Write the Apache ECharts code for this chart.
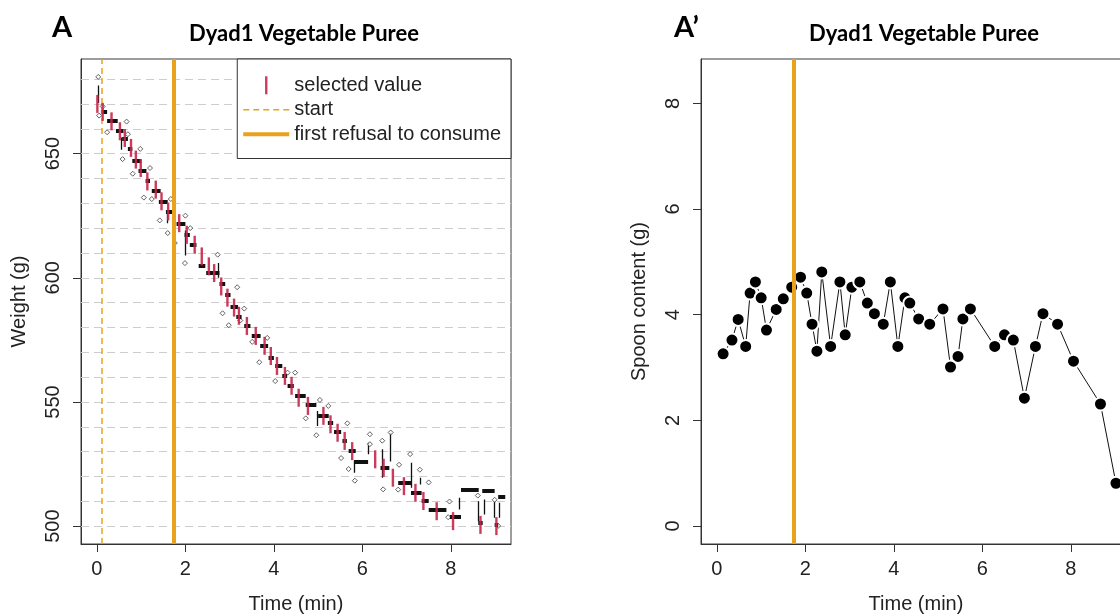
<!DOCTYPE html>
<html>
<head>
<meta charset="utf-8">
<script src="https://cdn.jsdelivr.net/npm/echarts@6/dist/echarts.min.js"></script>
<style>
  html, body { margin: 0; padding: 0; background: #fff; }
  #chart { width: 1120px; height: 616px; }
</style>
</head>
<body>
<div id="chart"></div>
<script>
// ---- Panel A: scale weight over time ----
// raw scale readings (min, g)
const rawTime   = [0.03,0.05,0.13,0.23,0.67,0.70,0.98,0.58,0.81,1.20,1.06,1.24,1.42,1.67,1.60,1.76,2.00,2.11,1.99,2.73,3.17,2.84,2.98,3.33,3.24,3.51,3.67,3.85,4.03,4.31,4.48,4.72,4.96,5.04,5.23,5.52,5.66,5.69,5.83,6.17,6.17,6.45,6.64,6.47,6.81,6.83,7.08,7.30,7.50,7.97,7.94,8.61,8.99,9.07];
const rawWeight = [680.9,665.3,669.0,658.6,662.9,657.8,651.9,647.8,641.9,644.2,632.3,631.7,623.1,631.7,618.0,614.0,625.0,620.0,605.9,609.3,596.2,585.7,580.9,587.6,582.8,574.2,566.0,575.8,558.4,561.8,561.8,543.4,536.6,550.8,548.4,527.4,541.4,523.0,518.3,537.0,533.0,534.4,537.7,514.8,514.7,524.7,529.0,522.7,517.6,509.9,503.6,512.3,510.6,500.1];

// stable plateaus: start time, end time, weight
const plateauStart  = [0.09,0.23,0.43,0.57,0.70,0.80,0.94,1.10,1.24,1.40,1.56,1.80,1.98,2.10,2.30,2.47,2.77,2.90,3.02,3.15,3.33,3.50,3.69,3.88,4.03,4.19,4.31,4.48,4.72,5.00,5.22,5.36,5.55,5.69,5.81,6.41,6.81,7.10,7.34,7.50,7.98,8.23,8.62,8.71,8.99,9.07];
const plateauEnd    = [0.23,0.47,0.60,0.70,0.80,1.00,1.12,1.20,1.44,1.60,1.70,2.00,2.10,2.25,2.45,2.77,2.90,3.02,3.19,3.27,3.47,3.70,3.87,4.00,4.19,4.30,4.45,4.72,4.96,5.24,5.34,5.52,5.65,5.85,6.13,6.61,7.10,7.34,7.50,7.90,8.23,8.63,8.72,8.99,9.07,9.23];
const plateauWeight = [667.0,663.4,659.4,656.0,652.0,647.2,642.9,639.0,635.2,630.8,626.5,621.8,617.5,613.5,605.0,601.9,597.5,593.0,588.5,584.5,580.5,576.5,572.5,568.0,564.4,560.4,556.4,552.4,548.7,544.4,541.7,538.1,534.4,530.3,525.9,523.7,517.6,513.6,510.3,506.6,503.6,514.7,501.2,514.3,500.5,511.9];

// short transitions between readings: time, low weight, high weight
const jumpTime = [0.03,0.56,1.60,1.99,2.75,4.98,5.81,6.13,6.45,6.64,7.10,7.30,8.18,8.63,8.75,8.99,9.09];
const jumpLow  = [670.4,651.6,622.0,609.0,600.0,540.3,521.5,528.9,519.5,526.0,515.5,516.8,506.7,502.0,504.7,503.4,503.4];
const jumpHigh = [677.4,656.5,626.7,619.0,606.0,546.4,526.2,533.6,531.0,537.6,525.5,519.5,511.4,510.0,510.7,510.0,509.4];

// selected bite weights
const selTime   = [0.01,0.13,0.33,0.52,0.63,0.77,0.88,0.99,1.14,1.33,1.46,1.61,1.86,2.03,2.21,2.37,2.53,2.65,2.81,2.95,3.10,3.21,3.39,3.59,3.79,3.93,4.07,4.25,4.40,4.56,4.77,5.12,5.28,5.44,5.60,5.77,6.29,6.48,6.69,6.94,7.20,7.38,7.68,8.05,8.67,9.03];
const selWeight = [670.0,666.8,663.0,659.0,656.3,652.3,647.6,644.2,638.8,635.5,630.8,626.7,622.0,617.3,613.3,608.6,604.6,601.9,596.5,592.0,588.0,584.7,580.6,576.6,572.6,568.5,564.5,560.5,556.5,551.7,548.4,544.4,541.0,537.6,534.3,530.2,526.9,523.5,519.5,516.1,513.4,510.1,506.0,502.0,500.5,500.0];

const weightGrid  = [500,510,520,530,540,550,560,570,580,590,600,610,620,630,640,650,660,670,680];
const weightTicks = [500,550,600,650];

// ---- Panel A': spoon content per bite ----
const spoonTime    = [0.14,0.34,0.48,0.65,0.75,0.87,1.00,1.12,1.34,1.50,1.69,1.89,2.03,2.15,2.26,2.37,2.57,2.78,2.90,3.05,3.23,3.40,3.56,3.76,3.92,4.09,4.25,4.36,4.56,4.81,5.11,5.28,5.45,5.56,5.73,6.28,6.50,6.70,6.95,7.20,7.37,7.70,8.06,8.67,9.02];
const spoonContent = [3.26,3.52,3.91,3.40,4.41,4.62,4.32,3.71,4.10,4.30,4.52,4.71,4.41,3.82,3.31,4.81,3.40,4.62,3.62,4.52,4.62,4.22,4.02,3.82,4.62,3.40,4.32,4.22,3.92,3.82,4.11,3.01,3.21,3.92,4.11,3.40,3.62,3.52,2.42,3.40,4.02,3.82,3.12,2.31,0.81];
const spoonTicks   = [0,2,4,6,8];

const timeTicks   = [0,2,4,6,8];
const startTime   = 0.10;
const refusalTime = 1.74;

const ORANGE = '#e9a21c';
const RED = '#c8264a';
const AXIS_FONT = 'Liberation Sans, Arial, sans-serif';
const TITLE_FONT = 'Lato, Open Sans, sans-serif';

// legend glyphs: short red tick, dashed line, thick line
const ICON_TICK = 'path://M0,0H2.4V18H0Z';
const ICON_DASH = 'path://M0,0H6V1.5H0Z M10,0H16V1.5H10Z M20,0H26V1.5H20Z M30,0H36V1.5H30Z M40,0H46V1.5H40Z';
const ICON_BAR  = 'path://M0,0H46V4H0Z';

const zip = (a, b) => a.map((v, i) => [v, b[i]]);

function timeAxis(gridIndex) {
  return {
    type: 'value', gridIndex, min: -0.36, max: 9.36,
    name: 'Time (min)', nameLocation: 'middle', nameGap: 50,
    nameTextStyle: { fontFamily: AXIS_FONT, fontSize: 20, color: '#222' },
    axisLine: { show: true, onZero: false, lineStyle: { color: '#333', width: 1 } },
    axisTick: { show: true, length: 8, customValues: timeTicks, lineStyle: { color: '#333' } },
    axisLabel: { customValues: timeTicks, margin: 15, fontFamily: AXIS_FONT, fontSize: 20, color: '#222' },
    splitLine: { show: false }
  };
}
function valueAxis(gridIndex, min, max, ticks, name) {
  return {
    type: 'value', gridIndex, min, max,
    name, nameLocation: 'middle', nameGap: 52,
    nameTextStyle: { fontFamily: AXIS_FONT, fontSize: 20, color: '#222' },
    axisLine: { show: true, onZero: false, lineStyle: { color: '#333', width: 1 } },
    axisTick: { show: true, length: 8, customValues: ticks, lineStyle: { color: '#333' } },
    axisLabel: { customValues: ticks, rotate: 90, margin: 18, fontFamily: AXIS_FONT, fontSize: 20, color: '#222' },
    splitLine: { show: false }
  };
}

const chart = echarts.init(document.getElementById('chart'), null, { renderer: 'canvas' });

chart.setOption({
  animation: false,
  backgroundColor: '#fff',
  grid: [
    { left: 81, right: 609, top: 59, bottom: 72, show: true, borderColor: '#3a3a3a', borderWidth: 1, containLabel: false, outerBoundsMode: 'none' },
    { left: 701, right: -11, top: 59, bottom: 72, show: true, borderColor: '#3a3a3a', borderWidth: 1, containLabel: false, outerBoundsMode: 'none' }
  ],
  xAxis: [timeAxis(0), timeAxis(1)],
  yAxis: [
    valueAxis(0, 492.8, 688.1, weightTicks, 'Weight (g)'),
    valueAxis(1, -0.34, 8.84, spoonTicks, 'Spoon content (g)')
  ],
  legend: {
    orient: 'vertical', right: 609, top: 59,
    backgroundColor: '#fff', borderColor: '#333', borderWidth: 1,
    padding: [14, 10, 12, 6],
    itemWidth: 46, itemHeight: 18, itemGap: 0,
    textStyle: { fontFamily: AXIS_FONT, fontSize: 20, lineHeight: 24.5, color: '#222' },
    selectedMode: false,
    data: [
      { name: 'selected value', icon: ICON_TICK },
      { name: 'start', icon: ICON_DASH },
      { name: 'first refusal to consume', icon: ICON_BAR }
    ]
  },
  graphic: [
    { type: 'text', x: 52, y: 28, style: { text: 'A', font: 'bold 29px ' + TITLE_FONT, fill: '#000', verticalAlign: 'middle' } },
    { type: 'text', x: 304, y: 34, style: { text: 'Dyad1 Vegetable Puree', font: 'bold 22px ' + TITLE_FONT, fill: '#000', align: 'center', verticalAlign: 'middle' } },
    { type: 'text', x: 674, y: 28, style: { text: 'A\u2019', font: 'bold 29px ' + TITLE_FONT, fill: '#000', verticalAlign: 'middle' } },
    { type: 'text', x: 924, y: 34, style: { text: 'Dyad1 Vegetable Puree', font: 'bold 22px ' + TITLE_FONT, fill: '#000', align: 'center', verticalAlign: 'middle' } }
  ],
  series: [
    {
      // dashed reference grid for weight
      name: 'weight grid', type: 'lines', coordinateSystem: 'cartesian2d', xAxisIndex: 0, yAxisIndex: 0,
      silent: true, z: 1,
      data: weightGrid.map(w => ({ coords: [[-0.36, w], [9.36, w]] })),
      lineStyle: { color: '#cdcdcd', width: 1, type: [8, 5], opacity: 1 }
    },
    {
      name: 'raw', type: 'scatter', xAxisIndex: 0, yAxisIndex: 0, z: 3,
      symbol: 'diamond', symbolSize: 5,
      itemStyle: { color: '#fff', borderColor: '#3c3c3c', borderWidth: 1 },
      data: zip(rawTime, rawWeight)
    },
    {
      name: 'jumps', type: 'lines', coordinateSystem: 'cartesian2d', xAxisIndex: 0, yAxisIndex: 0, z: 3,
      lineStyle: { color: '#111', width: 1.3, opacity: 1 },
      data: jumpTime.map((t, i) => ({ coords: [[t, jumpLow[i]], [t, jumpHigh[i]]] }))
    },
    {
      name: 'plateaus', type: 'lines', coordinateSystem: 'cartesian2d', xAxisIndex: 0, yAxisIndex: 0, z: 4,
      lineStyle: { color: '#111', width: 4, opacity: 1, cap: 'butt' },
      data: plateauStart.map((t, i) => ({ coords: [[t, plateauWeight[i]], [plateauEnd[i], plateauWeight[i]]] }))
    },
    {
      name: 'selected value', type: 'scatter', xAxisIndex: 0, yAxisIndex: 0, z: 5,
      symbol: 'rect', symbolSize: [2.4, 18],
      itemStyle: { color: RED, opacity: 0.9 },
      data: zip(selTime, selWeight)
    },
    {
      name: 'start', type: 'line', xAxisIndex: 0, yAxisIndex: 0, z: 2,
      data: [], symbol: 'none', color: ORANGE,
      lineStyle: { color: ORANGE, width: 1.5, type: [6, 4] },
      markLine: {
        silent: true, symbol: ['none', 'none'], label: { show: false },
        lineStyle: { color: ORANGE, width: 1.5, type: [6, 4], opacity: 1 },
        data: [{ xAxis: startTime }]
      }
    },
    {
      name: 'first refusal to consume', type: 'line', xAxisIndex: 0, yAxisIndex: 0, z: 2,
      data: [], symbol: 'none', color: ORANGE,
      lineStyle: { color: ORANGE, width: 4 },
      markLine: {
        silent: true, symbol: ['none', 'none'], label: { show: false },
        lineStyle: { color: ORANGE, width: 4, type: 'solid', opacity: 1 },
        data: [{ xAxis: refusalTime }]
      }
    },
    {
      name: 'spoon content', type: 'line', xAxisIndex: 1, yAxisIndex: 1, z: 3,
      data: zip(spoonTime, spoonContent),
      symbol: 'circle', symbolSize: 13, showAllSymbol: true,
      itemStyle: { color: '#000', borderColor: '#fff', borderWidth: 2 },
      lineStyle: { color: '#111', width: 1 },
      markLine: {
        silent: true, symbol: ['none', 'none'], label: { show: false },
        lineStyle: { color: ORANGE, width: 4, type: 'solid', opacity: 1 },
        data: [{ xAxis: refusalTime }]
      }
    }
  ]
});
</script>
</body>
</html>
